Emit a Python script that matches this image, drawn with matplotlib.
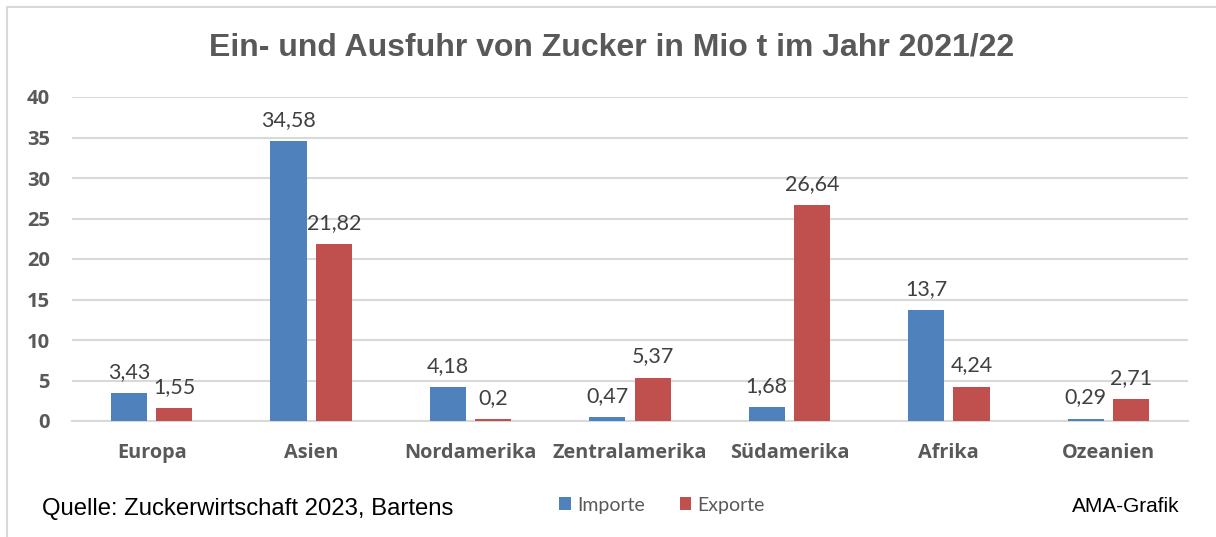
import numpy as np
import matplotlib.pyplot as plt
from matplotlib.patches import Rectangle

# ----- data ------------------------------------------------------------------
REGIONS = ["Europa", "Asien", "Nordamerika", "Zentralamerika", "Südamerika", "Afrika", "Ozeanien"]
IMPORTE = [3.43, 34.58, 4.18, 0.47, 1.68, 13.7, 0.29]
EXPORTE = [1.55, 21.82, 0.2, 5.37, 26.64, 4.24, 2.71]
Y_TICKS = [0, 5, 10, 15, 20, 25, 30, 35, 40]

BLUE = "#4F81BD"
RED = "#C0504D"
GRID = "#D9D9D9"
GREY_TXT = "#595959"
LABEL_TXT = "#404040"
LABEL_FONT = ["Lato", "DejaVu Sans"]
BOLD_FONT = ["Open Sans", "DejaVu Sans"]


def fmt(v):
    return f"{v:g}".replace(".", ",")


fig = plt.figure(figsize=(12.16, 5.37), dpi=100)
# outer chart border (light grey, only top/left visible in the crop)
fig.patches.append(Rectangle((7 / 1216, -0.1), 1.2, 1 - 7 / 537 + 0.1, transform=fig.transFigure,
                             fill=False, edgecolor=GRID, lw=1.5))

ax = fig.add_axes([72 / 1216, 1 - 421 / 537, (1188 - 72) / 1216, (421 - 97) / 537])
x = np.arange(len(REGIONS))
w = 0.226
off = 0.142
b1 = ax.bar(x - off, IMPORTE, w, color=BLUE, zorder=3)
b2 = ax.bar(x + off, EXPORTE, w, color=RED, zorder=3)

for bars, vals in ((b1, IMPORTE), (b2, EXPORTE)):
    for rect, v in zip(bars, vals):
        ax.annotate(fmt(v), (rect.get_x() + rect.get_width() / 2, v), xytext=(0, 8),
                    textcoords="offset points", ha="center", va="bottom",
                    fontsize=15.5, color=LABEL_TXT, family=LABEL_FONT)

ax.set_xlim(-0.5, len(REGIONS) - 0.5)
ax.set_ylim(0, 40)
ax.set_yticks(Y_TICKS)
ax.set_xticks(x)
ax.set_xticklabels(REGIONS)
for lab in ax.get_xticklabels():
    lab.set_family(BOLD_FONT)
    lab.set_fontweight("bold")
    lab.set_fontsize(14.3)
    lab.set_color(GREY_TXT)
for lab in ax.get_yticklabels():
    lab.set_family(BOLD_FONT)
    lab.set_fontweight("bold")
    lab.set_fontsize(14.5)
    lab.set_color(GREY_TXT)
    lab.set_horizontalalignment("right")
ax.tick_params(axis="both", length=0)
ax.tick_params(axis="x", pad=16)
ax.tick_params(axis="y", pad=16)
ax.yaxis.grid(True, color=GRID, lw=1.5, zorder=0)
for s in ("top", "right", "left"):
    ax.spines[s].set_visible(False)
ax.spines["bottom"].set_color(GRID)
ax.spines["bottom"].set_linewidth(1.5)

fig.text(612 / 1216, 1 - 48 / 537, "Ein- und Ausfuhr von Zucker in Mio t im Jahr 2021/22",
         ha="center", va="center", fontsize=23, fontweight="bold", color=GREY_TXT,
         family="Liberation Sans")
fig.text(42 / 1216, 1 - 509 / 537, "Quelle: Zuckerwirtschaft 2023, Bartens", ha="left", va="center",
         fontsize=17.2, color="black", family="Liberation Sans")
fig.text(1180 / 1216, 1 - 507 / 537, "AMA-Grafik", ha="right", va="center",
         fontsize=15, color="black", family="Liberation Sans")

ax.legend([b1, b2], ["Importe", "Exporte"], loc="center", bbox_to_anchor=(662 / 1216, 1 - 505 / 537),
          bbox_transform=fig.transFigure, ncol=2, frameon=False, handlelength=0.6, handleheight=0.6,
          handletextpad=0.3, columnspacing=1.8, prop={"family": LABEL_FONT, "size": 14},
          labelcolor=GREY_TXT)

fig.savefig("out.png", dpi=100)
